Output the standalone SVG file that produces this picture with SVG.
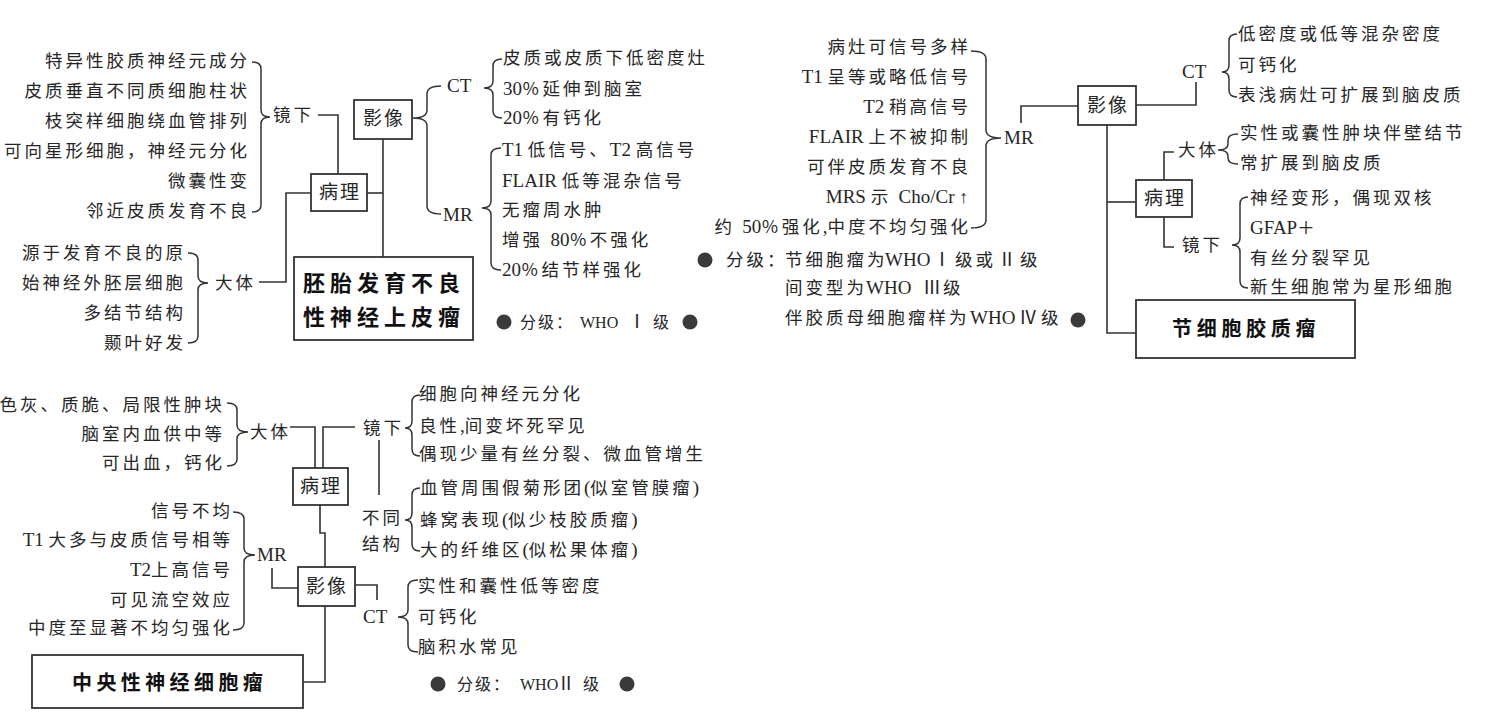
<svg xmlns="http://www.w3.org/2000/svg" width="1500" height="718" viewBox="0 0 1500 718">
<style>
.t{font-family:"Liberation Serif","Noto Sans CJK SC",serif;font-size:17.5px;letter-spacing:3px;fill:#262626}
.l{letter-spacing:0;font-size:19px}
.r{letter-spacing:0;font-size:18px;text-anchor:middle}
.s{font-size:16px;letter-spacing:2px}
.s2{font-size:16px;letter-spacing:0}
.e{text-anchor:end}
.m{text-anchor:middle}
.bl{font-size:19px;letter-spacing:2px}
.b{font-weight:700;fill:#111}
.ln{fill:none;stroke:#333;stroke-width:1.6}
.br{fill:none;stroke:#333;stroke-width:1.5}
.bx{fill:#fff;stroke:#333;stroke-width:1.8}
.dot{fill:#3a3a3a}
</style>
<rect width="1500" height="718" fill="#fff"/>
<g id="connectors">
<path class="ln" d="M318,115 H338 V174"/>
<path class="ln" d="M311,193 H286 V282 H259"/>
<path class="ln" d="M367,193 H383"/>
<path class="ln" d="M383,139 V257"/>
<path class="br" d="M252,62 Q261,62 261,69 V110 Q261,117 270,117 Q261,117 261,124 V205 Q261,212 252,212"/>
<path class="br" d="M441,86 Q427,86 427,94 V110 Q427,118 413,118 Q427,118 427,126 V206 Q427,214 441,214"/>
<path class="br" d="M502,59 Q493,59 493,66 V81 Q493,88 484,88 Q493,88 493,95 V111 Q493,118 502,118"/>
<path class="br" d="M501,148 Q491,148 491,155 V201 Q491,208 482,208 Q491,208 491,215 V263 Q491,270 501,270"/>
<path class="br" d="M188,253 Q198,253 198,260 V276 Q198,283 208,283 Q198,283 198,290 V336 Q198,343 188,343"/>
<path class="ln" d="M1021,123 V106 H1078"/>
<path class="ln" d="M1136,105 H1196 V82"/>
<path class="ln" d="M1107,125 V333 H1136"/>
<path class="ln" d="M1107,202 H1136"/>
<path class="ln" d="M1164,180 V152 H1174"/>
<path class="ln" d="M1164,217 V247 H1174"/>
<path class="br" d="M971,51 Q986,51 986,59 V130 Q986,138 1001,138 Q986,138 986,146 V220 Q986,228 971,228"/>
<path class="br" d="M1237,34 Q1229,34 1229,41 V65 Q1229,72 1222,72 Q1229,72 1229,79 V90 Q1229,97 1237,97"/>
<path class="br" d="M1238,134 Q1228,134 1228,140 V144 Q1228,150 1218,150 Q1228,150 1228,156 V158 Q1228,164 1238,164"/>
<path class="br" d="M1248,197 Q1240,197 1240,204 V238 Q1240,245 1232,245 Q1240,245 1240,252 V281 Q1240,288 1248,288"/>
<path class="ln" d="M290,427 H315 V468"/>
<path class="ln" d="M355,427 H323 V468"/>
<path class="ln" d="M320,505 V533 H325 V567"/>
<path class="ln" d="M298,588 H272 V568"/>
<path class="ln" d="M325,606 V682 H303"/>
<path class="ln" d="M355,585 H377 V600"/>
<path class="ln" d="M379,440 V495"/>
<path class="br" d="M227,403 Q237,403 237,410 V425 Q237,432 248,432 Q237,432 237,439 V459 Q237,466 227,466"/>
<path class="br" d="M233,512 Q244,512 244,519 V548 Q244,555 255,555 Q244,555 244,562 V623 Q244,630 233,630"/>
<path class="br" d="M418,580 Q408,580 408,587 V610 Q408,617 398,617 Q408,617 408,624 V645 Q408,652 418,652"/>
<path class="br" d="M420,395 Q412,395 412,402 V421 Q412,428 405,428 Q412,428 412,435 V449 Q412,456 420,456"/>
<path class="br" d="M420,488 Q412,488 412,495 V513 Q412,520 405,520 Q412,520 412,527 V544 Q412,551 420,551"/>
</g>

<g id="s1-main">
<rect class="bx" x="294" y="257" width="179" height="83"/>
<text class="t b" style="font-size:22px;letter-spacing:5px" x="303" y="291">胚胎发育不良</text>
<text class="t b" style="font-size:22px;letter-spacing:5px" x="303" y="325">性神经上皮瘤</text>
</g>
<g id="s1-pathology">
<rect class="bx" x="311" y="174" width="56" height="37"/>
<text class="t m bl" x="340" y="199">病理</text>
</g>
<g id="s1-imaging">
<rect class="bx" x="354" y="100" width="58" height="39"/>
<text class="t m bl" x="384" y="125">影像</text>
</g>
<g id="s1-micro">
<text class="t" x="273" y="121">镜下</text>
<text class="t e" x="250" y="67">特异性胶质神经元成分</text>
<text class="t e" x="250" y="97">皮质垂直不同质细胞柱状</text>
<text class="t e" x="250" y="127">枝突样细胞绕血管排列</text>
<text class="t e" x="250" y="157">可向星形细胞，神经元分化</text>
<text class="t e" x="250" y="187">微囊性变</text>
<text class="t e" x="250" y="217">邻近皮质发育不良</text>
</g>
<g id="s1-gross">
<text class="t" x="215" y="289">大体</text>
<text class="t e" x="186" y="259">源于发育不良的原</text>
<text class="t e" x="186" y="289">始神经外胚层细胞</text>
<text class="t e" x="186" y="319">多结节结构</text>
<text class="t e" x="186" y="349">颞叶好发</text>
</g>
<g id="s1-ct">
<text class="t l" x="447" y="92">CT</text>
<text class="t" x="503" y="64">皮质或皮质下低密度灶</text>
<text class="t" x="503" y="95"><tspan class="l">30</tspan>％延伸到脑室</text>
<text class="t" x="503" y="124"><tspan class="l">20</tspan>％有钙化</text>
</g>
<g id="s1-mr">
<text class="t l" x="443" y="221">MR</text>
<text class="t" x="502" y="156"><tspan class="l">T1 </tspan>低信号、<tspan class="l">T2 </tspan>高信号</text>
<text class="t" x="502" y="187"><tspan class="l">FLAIR </tspan>低等混杂信号</text>
<text class="t" x="502" y="216">无瘤周水肿</text>
<text class="t" x="502" y="246">增强 <tspan class="l">80</tspan>％不强化</text>
<text class="t" x="502" y="276"><tspan class="l">20</tspan>％结节样强化</text>
</g>
<g id="s1-grade">
<circle class="dot" cx="504" cy="322" r="7.5"/>
<circle class="dot" cx="690" cy="322" r="7.5"/>
<text class="t s" x="520" y="328">分级：</text>
<text class="t s2" x="580" y="328">WHO</text>
<text class="t r" x="637" y="328">Ⅰ</text>
<text class="t s" x="653" y="328">级</text>
</g>

<g id="s2-main">
<rect class="bx" x="1136" y="300" width="219" height="58"/>
<text class="t b" style="font-size:20px;letter-spacing:4.7px" x="1172" y="336">节细胞胶质瘤</text>
</g>
<g id="s2-imaging">
<rect class="bx" x="1078" y="86" width="58" height="39"/>
<text class="t m bl" x="1108" y="112">影像</text>
</g>
<g id="s2-pathology">
<rect class="bx" x="1136" y="180" width="56" height="37"/>
<text class="t m bl" x="1165" y="205">病理</text>
</g>
<g id="s2-mr">
<text class="t l" x="1004" y="144">MR</text>
<text class="t e" x="971" y="53">病灶可信号多样</text>
<text class="t e" x="971" y="83"><tspan class="l">T1 </tspan>呈等或略低信号</text>
<text class="t e" x="971" y="113"><tspan class="l">T2 </tspan>稍高信号</text>
<text class="t e" x="971" y="143"><tspan class="l">FLAIR </tspan>上不被抑制</text>
<text class="t e" x="971" y="173">可伴皮质发育不良</text>
<text class="t e" x="971" y="203"><tspan class="l">MRS </tspan>示 <tspan class="l">Cho/Cr </tspan>↑</text>
<text class="t e" x="971" y="233">约 <tspan class="l">50</tspan>％强化<tspan class="l">,</tspan>中度不均匀强化</text>
</g>
<g id="s2-ct">
<text class="t l" x="1182" y="78">CT</text>
<text class="t" x="1238" y="40">低密度或低等混杂密度</text>
<text class="t" x="1238" y="71">可钙化</text>
<text class="t" x="1238" y="101">表浅病灶可扩展到脑皮质</text>
</g>
<g id="s2-gross">
<text class="t" x="1178" y="156">大体</text>
<text class="t" x="1240" y="139">实性或囊性肿块伴壁结节</text>
<text class="t" x="1240" y="169">常扩展到脑皮质</text>
</g>
<g id="s2-micro">
<text class="t" x="1182" y="251">镜下</text>
<text class="t" x="1250" y="204">神经变形，偶现双核</text>
<text class="t" x="1250" y="234"><tspan class="l">GFAP</tspan>＋</text>
<text class="t" x="1250" y="264">有丝分裂罕见</text>
<text class="t" x="1250" y="293">新生细胞常为星形细胞</text>
</g>
<g id="s2-grade">
<circle class="dot" cx="705" cy="260" r="7.5"/>
<circle class="dot" cx="1078" cy="320" r="7.5"/>
<text class="t" x="726" y="266">分级：</text>
<text class="t" x="785" y="266">节细胞瘤为</text>
<text class="t l" x="885" y="266">WHO</text>
<text class="t r" x="942" y="266">Ⅰ</text>
<text class="t" x="955" y="266">级或</text>
<text class="t r" x="1007" y="266">Ⅱ</text>
<text class="t" x="1020" y="266">级</text>
<text class="t" x="785" y="294">间变型为</text>
<text class="t l" x="866" y="294">WHO</text>
<text class="t r" x="932" y="294">Ⅲ</text>
<text class="t" x="943" y="294">级</text>
<text class="t" x="785" y="324">伴胶质母细胞瘤样为</text>
<text class="t l" x="970" y="324">WHO</text>
<text class="t r" x="1028" y="324">Ⅳ</text>
<text class="t" x="1041" y="324">级</text>
</g>

<g id="s3-main">
<rect class="bx" x="32" y="655" width="271" height="53"/>
<text class="t b" style="font-size:20px;letter-spacing:4.4px" x="72" y="690">中央性神经细胞瘤</text>
</g>
<g id="s3-pathology">
<rect class="bx" x="293" y="468" width="55" height="37"/>
<text class="t m bl" x="321" y="493">病理</text>
</g>
<g id="s3-imaging">
<rect class="bx" x="298" y="567" width="57" height="39"/>
<text class="t m bl" x="327" y="593">影像</text>
</g>
<g id="s3-gross">
<text class="t" x="250" y="438">大体</text>
<text class="t e" x="225" y="411">色灰、质脆、局限性肿块</text>
<text class="t e" x="225" y="440">脑室内血供中等</text>
<text class="t e" x="225" y="469">可出血，钙化</text>
</g>
<g id="s3-mr">
<text class="t l" x="257" y="561">MR</text>
<text class="t e" x="233" y="517">信号不均</text>
<text class="t e" x="233" y="546"><tspan class="l">T1 </tspan>大多与皮质信号相等</text>
<text class="t e" x="233" y="576"><tspan class="l">T2</tspan>上高信号</text>
<text class="t e" x="233" y="606">可见流空效应</text>
<text class="t e" x="233" y="634">中度至显著不均匀强化</text>
</g>
<g id="s3-ct">
<text class="t l" x="363" y="623">CT</text>
<text class="t" x="418" y="592">实性和囊性低等密度</text>
<text class="t" x="418" y="623">可钙化</text>
<text class="t" x="418" y="653">脑积水常见</text>
</g>
<g id="s3-micro">
<text class="t" x="363" y="434">镜下</text>
<text class="t" x="419" y="400">细胞向神经元分化</text>
<text class="t" x="419" y="432">良性<tspan class="l">,</tspan>间变坏死罕见</text>
<text class="t" x="419" y="460">偶现少量有丝分裂、微血管增生</text>
</g>
<g id="s3-structure">
<text class="t" x="362" y="524">不同</text>
<text class="t" x="362" y="550">结构</text>
<text class="t" x="420" y="494">血管周围假菊形团<tspan class="l">(</tspan>似室管膜瘤<tspan class="l">)</tspan></text>
<text class="t" x="420" y="526">蜂窝表现<tspan class="l">(</tspan>似少枝胶质瘤<tspan class="l">)</tspan></text>
<text class="t" x="420" y="556">大的纤维区<tspan class="l">(</tspan>似松果体瘤<tspan class="l">)</tspan></text>
</g>
<g id="s3-grade">
<circle class="dot" cx="438" cy="684" r="7.5"/>
<circle class="dot" cx="627" cy="684" r="7.5"/>
<text class="t s" x="457" y="690">分级：</text>
<text class="t s2" x="520" y="690">WHO</text>
<text class="t r" x="566" y="690">Ⅱ</text>
<text class="t s" x="583" y="690">级</text>
</g>
</svg>
